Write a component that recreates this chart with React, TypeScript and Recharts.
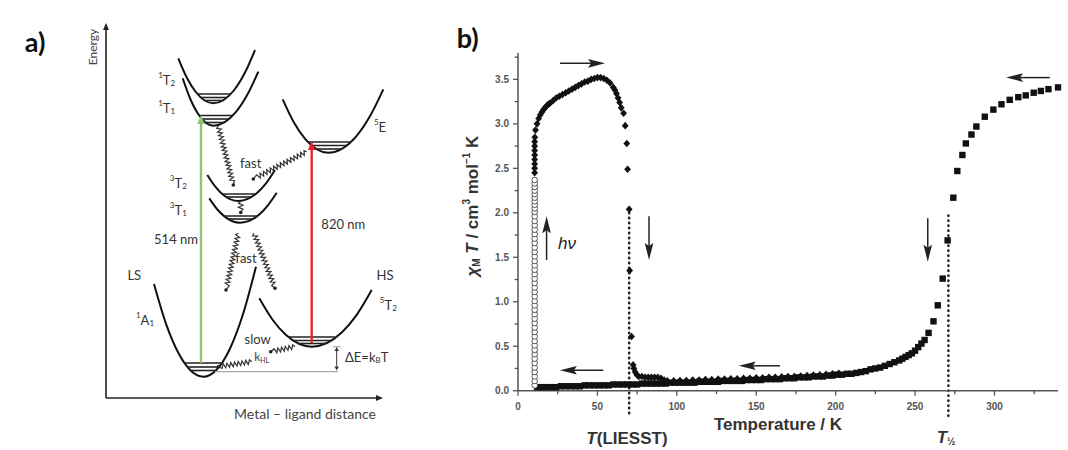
import React from 'react';
import { ComposedChart, ScatterChart, Scatter, Line, XAxis, YAxis, ReferenceLine, ReferenceDot } from 'recharts';

type P = [number, number];

// ---------- panel a: potential wells (x = metal-ligand distance, y = energy; arbitrary units) ----------
const well1T2: P[] = [[72.3, 339.7], [81, 320], [89.8, 306], [107.3, 294.7], [128.2, 308], [138.6, 324.7], [149, 348]];
const well1T1: P[] = [[76.7, 319.7], [84.3, 299], [92, 284.2], [107.3, 272.3], [129.8, 285.8], [141, 302.7], [152.3, 326.3]];
const well5E: P[] = [[176.7, 298.7], [188.1, 275.3], [199.5, 258.7], [222.3, 245.3], [249.8, 261.2], [263.5, 281], [277.3, 308.7]];
const well3T2: P[] = [[101.3, 223], [109.1, 211.6], [116.8, 203.5], [132.3, 197], [150.7, 204.8], [159.8, 214.4], [169, 228]];
const well3T1: P[] = [[103.3, 199.7], [111, 189], [118.7, 181.4], [134, 175.3], [152.4, 182.8], [161.5, 192.2], [170.7, 205.3]];
const well1A1: P[] = [[48, 114], [60.3, 73.4], [72.7, 44.5], [97.3, 21.3], [123.7, 48.8], [136.8, 83.2], [150, 131.3]];
const well5T2: P[] = [[153.3, 99.7], [166.4, 78.5], [179.5, 63.4], [205.7, 51.3], [235.7, 65.5], [250.7, 83.2], [265.7, 108]];

// vibrational levels [xFrom, xTo, energy]
const vibLevels: number[][] = [
  [91.4, 124.7, 304], [94.7, 121, 300.5], [98.6, 116.8, 297.5],
  [93.1, 126.8, 282.5], [95.8, 123.1, 279], [99.3, 118.2, 275.5],
  [202, 245, 256], [205.6, 240.8, 252.5], [210.3, 235.6, 249],
  [116.2, 149.7, 204], [120.1, 145.5, 201],
  [117.9, 151.3, 182], [122, 146.9, 179],
  [78.3, 115.9, 35], [81.3, 112.9, 31], [84.5, 109.8, 27.5],
  [183, 229, 61], [187, 225, 57.5], [192, 220, 54.5],
];

const greenExcitation: P[] = [[95, 35], [95, 283]];
const redExcitation: P[] = [[205.7, 55], [205.7, 257]];
const energyAxis: P[] = [[0, 0], [0, 375]];
const distanceAxis: P[] = [[0, 0], [277, 0]];
const deltaE: P[] = [[230.7, 27.5], [230.7, 51]];

const relaxations: P[][] = [
  [[112.3, 272], [127.3, 213]],
  [[200.7, 246.3], [147.3, 219]],
  [[134.7, 196.5], [134.7, 185.5]],
  [[132.3, 164.7], [120, 108]],
  [[148, 164.7], [169, 109.7]],
  [[189, 51.3], [164.7, 46.3]],
  [[145.7, 36.3], [112.3, 31.3]],
];

const stateLabels = [
  { x: 60.7, y: 318, sup: '1', main: 'T', sub: '2' },
  { x: 60.7, y: 289.7, sup: '1', main: 'T', sub: '1' },
  { x: 274, y: 271.3, sup: '5', main: 'E', sub: '' },
  { x: 72.3, y: 214.7, sup: '3', main: 'T', sub: '2' },
  { x: 72.3, y: 188, sup: '3', main: 'T', sub: '1' },
  { x: 39, y: 78, sup: '1', main: 'A', sub: '1' },
  { x: 282.3, y: 93, sup: '5', main: 'T', sub: '2' },
];

const plainLabels = [
  { x: 70, y: 158.7, text: '514 nm' },
  { x: 237.3, y: 174, text: '820 nm' },
  { x: 144.7, y: 235.3, text: 'fast' },
  { x: 140, y: 139.7, text: 'fast' },
  { x: 28.3, y: 123, text: 'LS' },
  { x: 279, y: 123, text: 'HS' },
  { x: 151.7, y: 59, text: 'slow' },
];

// ---------- panel b: chi_M T vs temperature ----------
const irradiationChi = [0.06, 0.11, 0.16, 0.21, 0.26, 0.31, 0.36, 0.41, 0.46, 0.51, 0.56, 0.61, 0.66, 0.71, 0.76,
  0.81, 0.86, 0.91, 0.96, 1.01, 1.06, 1.11, 1.16, 1.21, 1.26, 1.31, 1.36, 1.41, 1.46, 1.51, 1.56, 1.61, 1.66, 1.71,
  1.76, 1.81, 1.86, 1.91, 1.96, 2.01, 2.05, 2.09, 2.13, 2.17, 2.21, 2.25, 2.29, 2.33, 2.37];
const irradiationT = 10.5;

const warming: P[] = [
  [10.5, 2.45], [10.5, 2.5], [10.5, 2.55], [10.5, 2.6], [10.5, 2.65], [10.5, 2.7], [10.5, 2.75], [10.5, 2.8], [10.6, 2.85],
  [11, 2.93], [12, 3.0], [13, 3.06], [14, 3.1], [15, 3.13], [16, 3.16], [17, 3.18], [18, 3.2], [19, 3.22], [20, 3.23],
  [22, 3.26], [24, 3.29], [26, 3.31], [28, 3.33], [30, 3.35], [32, 3.37], [34, 3.39], [36, 3.41], [38, 3.43],
  [40, 3.45], [42, 3.47], [44, 3.48], [46, 3.5], [48, 3.51], [50, 3.52], [52, 3.52], [54, 3.51], [56, 3.49],
  [58, 3.46], [60, 3.41], [61, 3.38], [62, 3.34], [63, 3.29], [64, 3.24], [65, 3.18], [66.5, 3.12], [67.5, 2.98],
  [68.5, 2.78], [69, 2.49], [70, 2.04], [70.3, 1.35], [71.5, 0.61], [72.5, 0.29], [73, 0.25], [73.8, 0.21],
  [74.8, 0.18], [76, 0.16], [78, 0.16], [80, 0.15], [82, 0.15], [84, 0.15], [86, 0.15], [88, 0.15], [90, 0.14], [92, 0.12],
  [94, 0.11], [98, 0.11], [102, 0.115], [106, 0.115], [110, 0.12], [114, 0.12], [118, 0.125], [122, 0.125],
  [126, 0.13], [130, 0.13], [134, 0.135], [138, 0.135], [142, 0.14], [146, 0.14], [150, 0.145], [154, 0.145],
  [158, 0.15], [162, 0.15], [166, 0.155], [170, 0.16], [174, 0.16], [178, 0.165], [182, 0.17], [186, 0.175],
  [190, 0.18], [194, 0.185], [198, 0.19], [202, 0.195],
];

const cooling: P[] = [
  [340, 3.41], [334, 3.39], [329.2, 3.37], [324.7, 3.35], [319.7, 3.32], [315, 3.3], [309.6, 3.27], [304.4, 3.22],
  [299.3, 3.16], [293.9, 3.08], [288.6, 2.97], [285.5, 2.88], [282, 2.78], [279.8, 2.65], [276.6, 2.47], [274.1, 2.17],
  [270.5, 1.69], [267.4, 1.26], [264.3, 0.96], [261.6, 0.78], [258.5, 0.65], [256, 0.57], [254, 0.53], [252, 0.49],
  [250, 0.45], [248, 0.42], [246, 0.4], [244, 0.38], [242, 0.36], [240, 0.34], [237, 0.32], [234, 0.3], [231, 0.28],
  [228, 0.26], [225, 0.25], [222, 0.24], [219, 0.22], [216, 0.21], [213, 0.2], [210, 0.19], [207, 0.19], [204, 0.18],
  [201, 0.18], [198, 0.17], [195, 0.17], [192, 0.16], [189, 0.16], [186, 0.16], [183, 0.15], [180, 0.15], [177, 0.15],
  [174, 0.14], [171, 0.14], [168, 0.14], [165, 0.13], [162, 0.13], [159, 0.13], [156, 0.13], [153, 0.12], [150, 0.12],
  [147, 0.12], [144, 0.12], [141, 0.11], [138, 0.11], [135, 0.11], [132, 0.11], [129, 0.11], [126, 0.1], [123, 0.1],
  [120, 0.1], [117, 0.1], [114, 0.1], [111, 0.09], [108, 0.09], [105, 0.09], [102, 0.09], [99, 0.09], [96, 0.09],
  [93, 0.08], [90, 0.08], [87, 0.08], [84, 0.08], [81, 0.08], [78, 0.08], [75, 0.07], [72, 0.07], [69, 0.07],
  [66, 0.07], [63, 0.07], [60, 0.07], [57, 0.06], [54, 0.06], [51, 0.06], [48, 0.06], [45, 0.06], [42, 0.06],
  [39, 0.05], [36, 0.05], [33, 0.05], [30, 0.05], [27, 0.05], [24, 0.04], [21, 0.04], [18, 0.04], [15, 0.04], [12, 0.04],
];

const xTicks = [0, 25, 50, 75, 100, 125, 150, 175, 200, 225, 250, 275, 300, 325];
const yTicks = [0, 0.25, 0.5, 0.75, 1, 1.25, 1.5, 1.75, 2, 2.25, 2.5, 2.75, 3, 3.25, 3.5, 3.75];

const tLiesst = 70;
const tHalf = 271;

// direction arrows [from, to]
const sweepArrows: P[][] = [
  [[26.4, 3.68], [54.8, 3.68]],
  [[334.8, 3.52], [307.3, 3.52]],
  [[18, 1.47], [18, 1.96]],
  [[82.5, 1.96], [82.5, 1.47]],
  [[53.7, 0.23], [26.4, 0.23]],
  [[165, 0.28], [139, 0.28]],
  [[258, 1.94], [258, 1.45]],
];

const toPts = (arr: P[]) => arr.map(([x, y]) => ({ x, y }));
const seg = (a: P, b: P) => [{ x: a[0], y: a[1] }, { x: b[0], y: b[1] }];

const SANS = '"Liberation Sans", Arial, sans-serif';
const LATO = 'Lato, "Open Sans", sans-serif';

const makeArrow = (color: string, width: number, len: number, half: number, notch: number, both = false) => (p: any) => {
  const { x1, y1, x2, y2 } = p;
  const dx = x2 - x1, dy = y2 - y1;
  const d = Math.hypot(dx, dy) || 1;
  const ux = dx / d, uy = dy / d;
  const head = (tx: number, ty: number, sx: number, sy: number) => {
    const bx = tx - sx * len, by = ty - sy * len;
    const nx = tx - sx * len * notch, ny = ty - sy * len * notch;
    return `${tx},${ty} ${bx - sy * half},${by + sx * half} ${nx},${ny} ${bx + sy * half},${by - sx * half}`;
  };
  const sx1 = both ? x1 + ux * len * notch : x1;
  const sy1 = both ? y1 + uy * len * notch : y1;
  return (
    <g>
      <line x1={sx1} y1={sy1} x2={x2 - ux * len * notch} y2={y2 - uy * len * notch} stroke={color} strokeWidth={width} />
      <polygon points={head(x2, y2, ux, uy)} fill={color} />
      {both && <polygon points={head(x1, y1, -ux, -uy)} fill={color} />}
    </g>
  );
};

const wavy = (p: any) => {
  const { x1, y1, x2, y2 } = p;
  const dx = x2 - x1, dy = y2 - y1;
  const d = Math.hypot(dx, dy) || 1;
  const ux = dx / d, uy = dy / d;
  const nx = -uy, ny = ux;
  const step = 1.9, amp = 2.2;
  let path = `M${x1},${y1}`;
  const n = Math.floor((d - 3) / step);
  for (let i = 1; i <= n; i++) {
    const t = i * step;
    const s = i % 2 ? amp : -amp;
    path += ` L${x1 + ux * t + nx * s},${y1 + uy * t + ny * s}`;
  }
  path += ` L${x2},${y2}`;
  return (
    <g>
      <path d={path} fill="none" stroke="#333" strokeWidth={1.2} />
      <circle cx={x2} cy={y2} r={1.8} fill="#222" />
    </g>
  );
};

const dotted = (p: any) => (
  <line x1={p.x1} y1={p.y1} x2={p.x2} y2={p.y2} stroke="#222" strokeWidth={2.6} strokeDasharray="0.4 4.6" strokeLinecap="round" />
);

const PanelA = () => (
  <ComposedChart width={420} height={450} margin={{ top: 0, right: 0, bottom: 0, left: 0 }}>
    <XAxis type="number" dataKey="x" domain={[-106, 314]} hide />
    <YAxis type="number" dataKey="y" domain={[-52, 398]} hide />
    {[well1T2, well1T1, well5E, well3T2, well3T1, well1A1, well5T2].map((w, i) => (
      <Line key={`w${i}`} data={toPts(w)} dataKey="y" type="monotoneX" stroke="#111" strokeWidth={2} dot={false} activeDot={false} isAnimationActive={false} />
    ))}
    {vibLevels.map((v, i) => (
      <ReferenceLine key={`v${i}`} segment={seg([v[0], v[2]], [v[1], v[2]])} stroke="#222" strokeWidth={1.6} />
    ))}
    <ReferenceLine segment={seg([109, 26.3], [232.3, 26.3])} stroke="#aaa" strokeWidth={1.2} />
    <ReferenceLine segment={seg([227, 51.3], [234.5, 51.3])} stroke="#999" strokeWidth={1} />
    <ReferenceLine segment={seg(deltaE[0], deltaE[1])} shape={makeArrow('#333', 1, 4, 2.2, 1, true)} />
    {relaxations.map((r, i) => (
      <ReferenceLine key={`r${i}`} segment={seg(r[0], r[1])} shape={wavy} />
    ))}
    <ReferenceLine segment={seg(greenExcitation[0], greenExcitation[1])} shape={makeArrow('#8cc474', 2.4, 9, 3.8, 1)} />
    <ReferenceLine segment={seg(redExcitation[0], redExcitation[1])} shape={makeArrow('#e3262d', 2.4, 9, 3.8, 1)} />
    <ReferenceLine segment={seg(energyAxis[0], energyAxis[1])} shape={makeArrow('#222', 1.6, 7, 3, 1)} />
    <ReferenceLine segment={seg(distanceAxis[0], distanceAxis[1])} shape={makeArrow('#222', 1.6, 7, 3, 1)} />
    {stateLabels.map((s, i) => (
      <ReferenceDot key={`s${i}`} x={s.x} y={s.y} ifOverflow="visible" shape={(p: any) => (
        <text x={p.cx} y={p.cy} textAnchor="middle" dominantBaseline="central" fontFamily={LATO} fontSize={13} fill="#333">
          <tspan fontSize={8} dy={-5}>{s.sup}</tspan>
          <tspan dy={5}>{s.main}</tspan>
          {s.sub && <tspan fontSize={8} dy={3}>{s.sub}</tspan>}
        </text>
      )} />
    ))}
    {plainLabels.map((l, i) => (
      <ReferenceDot key={`l${i}`} x={l.x} y={l.y} ifOverflow="visible" shape={(p: any) => (
        <text x={p.cx} y={p.cy} textAnchor="middle" dominantBaseline="central" fontFamily={LATO} fontSize={13} fill="#333">{l.text}</text>
      )} />
    ))}
    <ReferenceDot x={155.7} y={41.3} ifOverflow="visible" shape={(p: any) => (
      <text x={p.cx} y={p.cy} textAnchor="middle" dominantBaseline="central" fontFamily={LATO} fontSize={12} fill="#444">
        k<tspan fontSize={7} dy={3}>HL</tspan>
      </text>
    )} />
    <ReferenceDot x={260.7} y={40.7} ifOverflow="visible" shape={(p: any) => (
      <text x={p.cx} y={p.cy} textAnchor="middle" dominantBaseline="central" fontFamily={LATO} fontSize={13} fill="#333">
        ΔE=k<tspan fontSize={8} dy={3}>B</tspan><tspan dy={-3}>T</tspan>
      </text>
    )} />
    <ReferenceDot x={-14} y={351} ifOverflow="visible" shape={(p: any) => (
      <text x={p.cx} y={p.cy} transform={`rotate(-90 ${p.cx} ${p.cy})`} textAnchor="middle" dominantBaseline="central" fontFamily={LATO} fontSize={12} fill="#444">Energy</text>
    )} />
    <ReferenceDot x={199} y={-15} ifOverflow="visible" shape={(p: any) => (
      <text x={p.cx} y={p.cy} textAnchor="middle" dominantBaseline="central" fontFamily={LATO} fontSize={14} fill="#444">Metal – ligand distance</text>
    )} />
    <ReferenceDot x={-71} y={357} ifOverflow="visible" shape={(p: any) => (
      <text x={p.cx} y={p.cy} textAnchor="middle" dominantBaseline="central" fontFamily={LATO} fontWeight="bold" fontSize={27} fill="#111">a)</text>
    )} />
  </ComposedChart>
);

const renderXTick = (p: any) => {
  const v = p.payload.value;
  const major = v % 50 === 0;
  return (
    <g>
      <line x1={p.x} y1={p.y} x2={p.x} y2={p.y + (major ? 5 : 3.5)} stroke="#555" strokeWidth={1.3} />
      {major && (
        <text x={p.x} y={p.y + 16} textAnchor="middle" dominantBaseline="central" fontFamily={SANS} fontWeight="bold" fontSize={10} fill="#555">{v}</text>
      )}
    </g>
  );
};

const renderYTick = (p: any) => {
  const v = p.payload.value;
  const major = Math.abs(v * 2 - Math.round(v * 2)) < 1e-6;
  return (
    <g>
      <line x1={p.x} y1={p.y} x2={p.x - (major ? 5 : 3.5)} y2={p.y} stroke="#555" strokeWidth={1.3} />
      {major && (
        <text x={p.x - 9} y={p.y} textAnchor="end" dominantBaseline="central" fontFamily={SANS} fontWeight="bold" fontSize={10} fill="#555">{v.toFixed(1)}</text>
      )}
    </g>
  );
};

const squareShape = (p: any) => <rect x={p.cx - 3.2} y={p.cy - 3.2} width={6.4} height={6.4} fill="#111" />;
const diamondShape = (p: any) => (
  <polygon points={`${p.cx},${p.cy - 3.8} ${p.cx + 3.4},${p.cy} ${p.cx},${p.cy + 3.8} ${p.cx - 3.4},${p.cy}`} fill="#111" />
);
const circleShape = (p: any) => <circle cx={p.cx} cy={p.cy} r={2.8} fill="#fff" stroke="#555" strokeWidth={1} />;

const PanelB = () => (
  <ScatterChart width={638} height={450} margin={{ top: 52.7, right: 10, bottom: 29.3, left: 38 }}>
    <XAxis type="number" dataKey="x" domain={[0, 340]} ticks={xTicks} interval={0} tickSize={0} tickMargin={0}
      tick={renderXTick} tickLine={false} axisLine={{ stroke: '#555', strokeWidth: 1.5 }} height={30} />
    <YAxis type="number" dataKey="y" domain={[0, 3.8]} ticks={yTicks} interval={0} tickSize={0} tickMargin={0}
      tick={renderYTick} tickLine={false} axisLine={{ stroke: '#555', strokeWidth: 1.5 }} width={50} />
    <ReferenceLine segment={[{ x: tLiesst, y: 2.0 }, { x: tLiesst, y: -0.3 }]} ifOverflow="visible" shape={dotted} />
    <ReferenceLine segment={[{ x: tHalf, y: 1.97 }, { x: tHalf, y: -0.3 }]} ifOverflow="visible" shape={dotted} />
    <Scatter data={toPts(cooling)} shape={squareShape} isAnimationActive={false} />
    <Scatter data={toPts(warming)} shape={diamondShape} isAnimationActive={false} />
    <Scatter data={irradiationChi.map((y) => ({ x: irradiationT, y }))} shape={circleShape} isAnimationActive={false} />
    {sweepArrows.map((a, i) => (
      <ReferenceLine key={`a${i}`} segment={seg(a[0], a[1])} ifOverflow="visible" shape={makeArrow('#222', 1.5, 17, 4.3, 0.82)} />
    ))}
    <ReferenceDot x={25.2} y={1.66} ifOverflow="visible" shape={(p: any) => (
      <text x={p.cx} y={p.cy} dominantBaseline="central" fontFamily={SANS} fontStyle="italic" fontSize={17} fill="#222">hν</text>
    )} />
    <ReferenceDot x={-29.2} y={2.075} ifOverflow="visible" shape={(p: any) => (
      <text x={p.cx} y={p.cy} transform={`rotate(-90 ${p.cx} ${p.cy})`} textAnchor="middle" dominantBaseline="central"
        fontFamily={SANS} fontWeight="bold" fontSize={17} fill="#333">
        <tspan fontStyle="italic">χ</tspan><tspan fontSize={10} dy={4}>M</tspan><tspan dy={-4} fontStyle="italic"> T</tspan>
        <tspan> / cm</tspan><tspan fontSize={10} dy={-6}>3</tspan><tspan dy={6}> mol</tspan>
        <tspan fontSize={10} dy={-6}>−1</tspan><tspan dy={6}> K</tspan>
      </text>
    )} />
    <ReferenceDot x={163.7} y={-0.385} ifOverflow="visible" shape={(p: any) => (
      <text x={p.cx} y={p.cy} textAnchor="middle" dominantBaseline="central" fontFamily={SANS} fontWeight="bold" fontSize={17} fill="#333">Temperature / K</text>
    )} />
    <ReferenceDot x={68.6} y={-0.532} ifOverflow="visible" shape={(p: any) => (
      <text x={p.cx} y={p.cy} textAnchor="middle" dominantBaseline="central" fontFamily={SANS} fontWeight="bold" fontSize={17} fill="#333">
        <tspan fontStyle="italic">T</tspan>(LIESST)
      </text>
    )} />
    <ReferenceDot x={269.5} y={-0.52} ifOverflow="visible" shape={(p: any) => (
      <text x={p.cx} y={p.cy} textAnchor="middle" dominantBaseline="central" fontFamily={SANS} fontWeight="bold" fontSize={17} fill="#333">
        <tspan fontStyle="italic">T</tspan><tspan fontSize={10} dy={4}>½</tspan>
      </text>
    )} />
    <ReferenceDot x={-31.7} y={3.976} ifOverflow="visible" shape={(p: any) => (
      <text x={p.cx} y={p.cy} textAnchor="middle" dominantBaseline="central" fontFamily={LATO} fontWeight="bold" fontSize={27} fill="#111">b)</text>
    )} />
  </ScatterChart>
);

export default function App() {
  return (
    <div style={{ position: 'absolute', left: 0, top: 0, width: 1068, height: 450, background: '#fff', overflow: 'hidden' }}>
      <div style={{ position: 'absolute', left: 0, top: 0 }}>
        <PanelA />
      </div>
      <div style={{ position: 'absolute', left: 430, top: 0 }}>
        <PanelB />
      </div>
    </div>
  );
}
